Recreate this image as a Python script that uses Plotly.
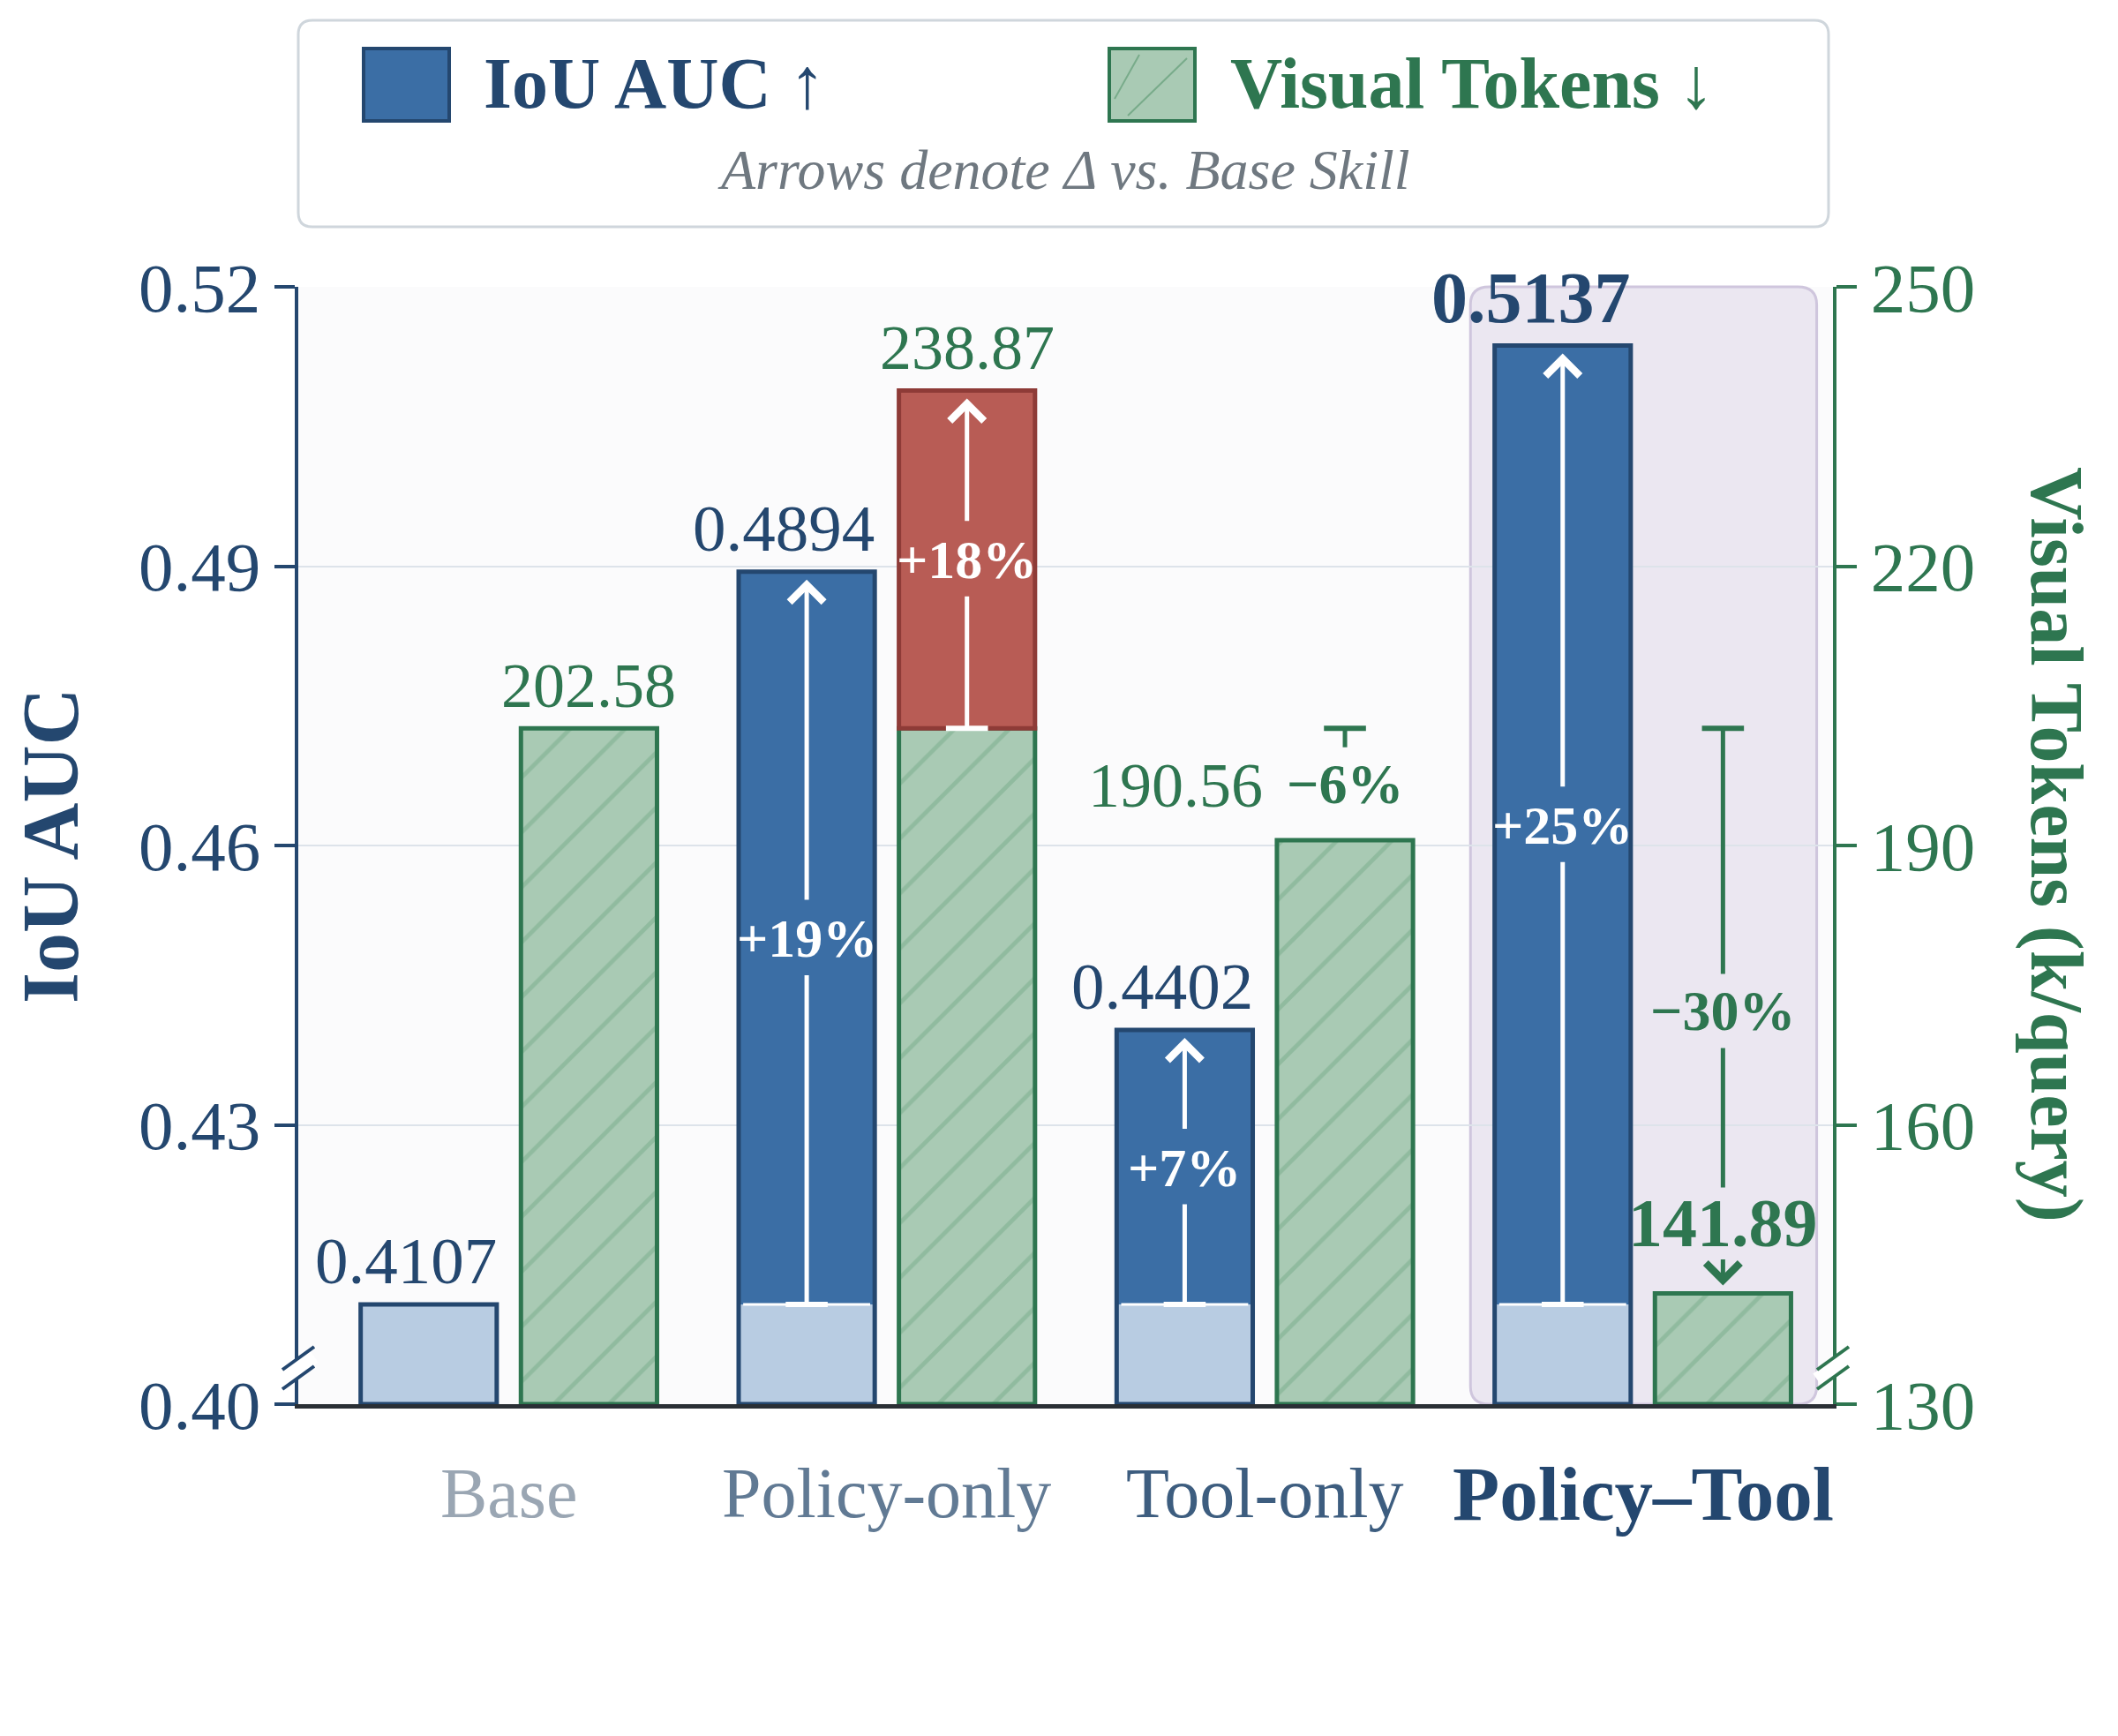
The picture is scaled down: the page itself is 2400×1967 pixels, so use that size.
import plotly.graph_objects as go

# ---- data ----
methods = ["Base", "Policy-only", "Tool-only", "Policy–Tool"]
iou_auc = [0.4107, 0.4894, 0.4402, 0.5137]
visual_tokens = [202.58, 238.87, 190.56, 141.89]
iou_ticks = [0.40, 0.43, 0.46, 0.49, 0.52]
token_ticks = [130, 160, 190, 220, 250]

# ---- colours / fonts ----
NAVY = "#24476f"
BLUE = "#3b6ea5"
LIGHT_BLUE = "#b8cce2"
GREEN = "#2e7650"
LIGHT_GREEN = "#a9cab4"
HATCH = "#78ab8a"
RED = "#b85c55"
DARK_RED = "#8e3b37"
LAVENDER = "#ebe7f1"
LAVENDER_EDGE = "#cfc6dd"
PLOT_BG = "#fbfbfc"
GRID = "#dde3ea"
FONT = "Liberation Serif"
label_colors = ["#9aa6b3", "#617a94", "#3d5d7f", NAVY]

# target geometry in screen pixels (page body adds an 8px offset)
W, H = 2400, 1967
OFS = 8
PL, PR, PT, PB = 338, 2077, 325, 1591
PW, PH = PR - PL, PB - PT


def px(x):
    return (x - PL) / PW


def py(y):
    return (PB - y) / PH


OFF, BW = 0.212, 0.36
n = len(methods)
xb = [i - OFF for i in range(n)]
xg = [i + OFF for i in range(n)]
base_iou, base_tok = iou_auc[0], visual_tokens[0]
iou_min, tok_min = iou_ticks[0], token_ticks[0]
best_iou = iou_auc.index(max(iou_auc))
best_tok = visual_tokens.index(min(visual_tokens))
ppu = {"y": PH / (iou_ticks[-1] - iou_ticks[0]), "y2": PH / (token_ticks[-1] - token_ticks[0])}


def pct(v, b):
    return f"{(v - b) / b * 100:+.0f}%".replace("-", "−")


fig = go.Figure()

# IoU bars: light base part, darker gain part, outline on top
fig.add_bar(x=xb, y=[min(v, base_iou) - iou_min for v in iou_auc], base=iou_min, width=BW,
            marker=dict(color=LIGHT_BLUE, line=dict(width=0)))
up = [i for i in range(n) if iou_auc[i] > base_iou]
fig.add_bar(x=[xb[i] for i in up], y=[iou_auc[i] - base_iou for i in up], base=base_iou, width=BW,
            marker=dict(color=BLUE, line=dict(width=0)))
fig.add_bar(x=xb, y=[v - iou_min for v in iou_auc], base=iou_min, width=BW,
            marker=dict(color="rgba(0,0,0,0)", line=dict(color=NAVY, width=5)))

# token bars: hatched up to base level, red above it
fig.add_bar(x=xg, y=[min(v, base_tok) - tok_min for v in visual_tokens], base=tok_min, width=BW,
            yaxis="y2",
            marker=dict(color=LIGHT_GREEN, line=dict(color=GREEN, width=5),
                        pattern=dict(shape="/", fgcolor=HATCH, bgcolor=LIGHT_GREEN,
                                     size=44, solidity=0.11, fillmode="overlay")))
more = [i for i in range(n) if visual_tokens[i] > base_tok]
less = [i for i in range(1, n) if visual_tokens[i] < base_tok]
fig.add_bar(x=[xg[i] for i in more], y=[visual_tokens[i] - base_tok for i in more], base=base_tok,
            width=BW, yaxis="y2", marker=dict(color=RED, line=dict(color=DARK_RED, width=5)))

# white boundary where the gain starts
bx, by = [], []
for i in up:
    bx += [xb[i] - BW / 2 + 0.012, xb[i] + BW / 2 - 0.012, None]
    by += [base_iou, base_iou, None]
fig.add_scatter(x=bx, y=by, mode="lines", line=dict(color="white", width=3))

annots = []


def arrow(x, y0, y1, yref, color, gaps):
    """Delta arrow from y0 to y1, broken around text labels (gaps: centre, half-gap px)."""
    sign = 1 if y1 > y0 else -1
    sx, sy = [x], [y0]
    start = y0
    for c, h in sorted(gaps, key=lambda g: sign * g[0]):
        d = h / ppu[yref]
        sx += [x, x, None]
        sy += [start, c - sign * d, None]
        start = c + sign * d
    fig.add_scatter(x=sx[1:], y=sy[1:], mode="lines", yaxis=yref, line=dict(color=color, width=5))
    fig.add_scatter(x=[x], y=[y0], mode="markers", yaxis=yref,
                    marker=dict(symbol="line-ew", size=34, line=dict(color=color, width=6)))
    annots.append(dict(x=x, y=y1, ax=x, ay=start, xref="x", yref=yref, axref="x", ayref=yref,
                       text="", showarrow=True, arrowhead=4, arrowsize=1.5, arrowwidth=5,
                       arrowcolor=color, standoff=9))


def text(x, y, yref, s, color, size, **kw):
    annots.append(dict(x=x, y=y, xref="x", yref=yref, text=s, showarrow=False,
                       font=dict(family=FONT, size=size, color=color), **kw))


GAP = 42
for i in up:
    mid = (base_iou + iou_auc[i]) / 2
    arrow(xb[i], base_iou, iou_auc[i], "y", "white", [(mid, GAP)])
    text(xb[i], mid, "y", f"<b>{pct(iou_auc[i], base_iou)}</b>", "white", 62)
for i in more:
    mid = (base_tok + visual_tokens[i]) / 2
    arrow(xg[i], base_tok, visual_tokens[i], "y2", "white", [(mid, GAP)])
    text(xg[i], mid, "y2", f"<b>{pct(visual_tokens[i], base_tok)}</b>", "white", 62)
best_lbl = visual_tokens[best_tok] + 80 / ppu["y2"]
for i in less:
    mid = (base_tok + visual_tokens[i]) / 2
    gaps = [(mid, GAP)]
    if i == best_tok:
        gaps.append((best_lbl, 40))
    arrow(xg[i], base_tok, visual_tokens[i], "y2", GREEN, gaps)
    text(xg[i], mid, "y2", f"<b>{pct(visual_tokens[i], base_tok)}</b>", GREEN, 64)

# value labels
for i in range(n):
    t = f"{iou_auc[i]:.4f}"
    bold = i == best_iou
    text(xb[i] + BW / 2, iou_auc[i], "y", f"<b>{t}</b>" if bold else t, NAVY,
         82 if bold else 75, xanchor="right", yanchor="bottom", xshift=2, yshift=6)
for i in range(n):
    t = f"{visual_tokens[i]:.2f}"
    if i == best_tok:
        text(xg[i], best_lbl, "y2", f"<b>{t}</b>", GREEN, 78, yanchor="middle")
    elif i in less:
        text(xg[i] - BW / 2, visual_tokens[i], "y2", t, GREEN, 72,
             xanchor="right", yanchor="bottom", xshift=-14, yshift=20)
    else:
        text(xg[i], visual_tokens[i], "y2", t, GREEN, 72, yanchor="bottom", yshift=6)

# category labels
for i, m in enumerate(methods):
    bold = i == best_iou
    annots.append(dict(x=i, xref="x", y=py(1692), yref="paper", showarrow=False,
                       text=f"<b>{m}</b>" if bold else m, xanchor="center", yanchor="middle",
                       font=dict(family=FONT, size=87 if bold else 80, color=label_colors[i])))

# axis titles
annots.append(dict(x=px(57), y=0.5, xref="paper", yref="paper", showarrow=False, textangle=-90,
                   xanchor="center", yanchor="middle",
                   text="<b>IoU AUC</b>", font=dict(family=FONT, size=90, color=NAVY)))
annots.append(dict(x=px(2330), y=py(957), xref="paper", yref="paper", showarrow=False,
                   textangle=90, xanchor="center", yanchor="middle",
                   text="<b>Visual Tokens (k/query)</b>", font=dict(family=FONT, size=84, color=GREEN)))

# legend texts
annots.append(dict(x=px(546), y=py(94), xref="paper", yref="paper", showarrow=False,
                   xanchor="left", yanchor="middle", text="<b>IoU AUC</b> ↑",
                   font=dict(family=FONT, size=82, color=NAVY)))
annots.append(dict(x=px(1392), y=py(94), xref="paper", yref="paper", showarrow=False,
                   xanchor="left", yanchor="middle", text="<b>Visual Tokens</b> ↓",
                   font=dict(family=FONT, size=82, color=GREEN)))
annots.append(dict(x=px(1205), y=py(192), xref="paper", yref="paper", showarrow=False,
                   xanchor="center", yanchor="middle",
                   text="<i>Arrows denote Δ vs. Base Skill</i>",
                   font=dict(family=FONT, size=64, color="#6f7880")))


def rounded(x0, y0, x1, y1, rx, ry):
    return (f"M {x0 + rx},{y0} L {x1 - rx},{y0} Q {x1},{y0} {x1},{y0 + ry} "
            f"L {x1},{y1 - ry} Q {x1},{y1} {x1 - rx},{y1} L {x0 + rx},{y1} "
            f"Q {x0},{y1} {x0},{y1 - ry} L {x0},{y0 + ry} Q {x0},{y0} {x0 + rx},{y0} Z")


shapes = []
# highlight behind best method
shapes.append(dict(type="path", xref="x", yref="paper", layer="below",
                   path=rounded(best_iou - 0.456, 0, best_iou + 0.46, 1, 0.05, 0.016),
                   fillcolor=LAVENDER, line=dict(color=LAVENDER_EDGE, width=3)))
# legend frame
shapes.append(dict(type="path", xref="paper", yref="paper",
                   path=rounded(px(338), py(257), px(2072), py(23), 16 / PW, 16 / PH),
                   fillcolor="white", line=dict(color="#cfd6dc", width=3)))
shapes.append(dict(type="rect", xref="paper", yref="paper", x0=px(412), x1=px(509),
                   y0=py(137), y1=py(55), fillcolor=BLUE, line=dict(color=NAVY, width=4)))
shapes.append(dict(type="rect", xref="paper", yref="paper", x0=px(1257), x1=px(1354),
                   y0=py(137), y1=py(55), fillcolor=LIGHT_GREEN, line=dict(color=GREEN, width=4)))
for (a0, b0, a1, b1) in [(1263, 112, 1291, 62), (1278, 131, 1345, 66)]:
    shapes.append(dict(type="line", xref="paper", yref="paper", x0=px(a0), y0=py(b0),
                       x1=px(a1), y1=py(b1), line=dict(color=HATCH, width=2)))

# axis break marks
for xc, col in [(PL, NAVY), (PR, GREEN)]:
    yc = PB - 41
    shapes.append(dict(type="line", xref="paper", yref="paper", x0=px(xc - 18), y0=py(yc + 13),
                       x1=px(xc + 18), y1=py(yc - 13), line=dict(color="white", width=16)))
    for d in (-11, 11):
        shapes.append(dict(type="line", xref="paper", yref="paper", x0=px(xc - 18),
                           y0=py(yc + 13 + d), x1=px(xc + 18), y1=py(yc - 13 + d),
                           line=dict(color=col, width=4)))

fig.update_layout(
    width=W, height=H,
    margin=dict(l=PL - OFS, r=W - (PR - OFS), t=PT - OFS, b=H - (PB - OFS)),
    paper_bgcolor="white", plot_bgcolor=PLOT_BG,
    barmode="overlay", showlegend=False,
    font=dict(family=FONT, color=NAVY),
    xaxis=dict(range=[-0.557, 3.503], showticklabels=False, ticks="", showgrid=False,
               zeroline=False, showline=True, linecolor="#2a2f35", linewidth=5),
    yaxis=dict(range=[iou_ticks[0], iou_ticks[-1]], tickvals=iou_ticks,
               ticktext=[f"{v:.2f}" for v in iou_ticks], showgrid=True, gridcolor=GRID,
               gridwidth=2, zeroline=False, showline=True, linecolor=NAVY, linewidth=4,
               ticks="outside", ticklen=23, tickwidth=4, tickcolor=NAVY, ticklabelstandoff=0,
               tickfont=dict(family=FONT, size=79, color=NAVY)),
    yaxis2=dict(range=[token_ticks[0], token_ticks[-1]], tickvals=token_ticks,
                overlaying="y", side="right", showgrid=False, zeroline=False, showline=True,
                linecolor=GREEN, linewidth=4, ticks="outside", ticklen=23, tickwidth=4,
                tickcolor=GREEN, ticklabelstandoff=0,
                tickfont=dict(family=FONT, size=79, color=GREEN)),
    annotations=annots,
    shapes=shapes,
)

fig.write_html("out.html")
